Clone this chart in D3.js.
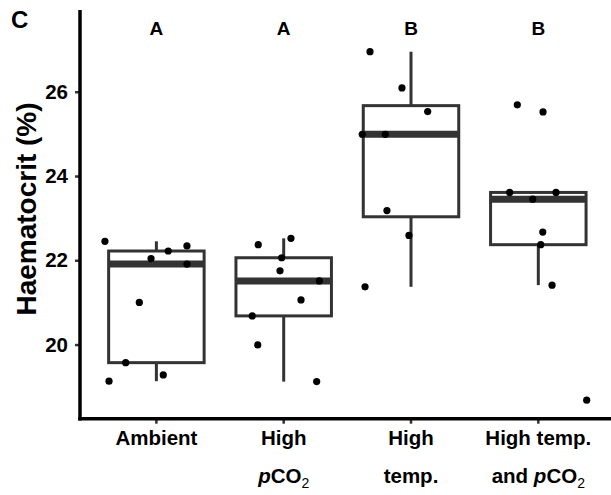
<!DOCTYPE html>
<html><head><meta charset="utf-8">
<script src="https://cdn.jsdelivr.net/npm/d3@7/dist/d3.min.js"></script>
<style>
body{margin:0;background:#fff;}
svg{display:block;font-family:"Liberation Sans",Arial,sans-serif;}
</style></head>
<body>
<svg id="chart" width="611" height="495"></svg>
<script>
// ---- data ----
const categories = ["Ambient", "High pCO2", "High temp.", "High temp. and pCO2"];
const categoryLines = [["Ambient"], ["High", "pCO2"], ["High", "temp."], ["High temp.", "and pCO2"]];
const letters = ["A", "A", "B", "B"];
const letterLevel = 27.5;
const ambient = [22.45, 22.22, 22.34, 22.04, 21.91, 21.0, 19.57, 19.28, 19.13];
const ambientJitter = [-0.404, 0.093, 0.24, -0.042, 0.24, -0.134, -0.241, 0.054, -0.372];
const highCO2 = [22.37, 22.52, 22.06, 21.75, 21.51, 21.06, 20.68, 19.99, 19.12];
const highCO2Jitter = [-0.20, 0.057, -0.016, -0.029, 0.28, 0.136, -0.247, -0.204, 0.259];
const highTemp = [26.95, 26.09, 25.53, 24.99, 24.99, 23.18, 22.59, 21.37];
const highTempJitter = [-0.322, -0.071, 0.131, -0.383, -0.202, -0.189, -0.016, -0.361];
const highBoth = [25.69, 25.52, 23.61, 23.61, 23.45, 22.67, 22.37, 21.41, 18.68];
const highBothJitter = [-0.165, 0.037, -0.225, 0.139, -0.044, 0.035, 0.019, 0.108, 0.38];
const yTicks = [20, 22, 24, 26];
const yTitle = "Haematocrit (%)";
const panelLabel = "C";

const groups = [ambient, highCO2, highTemp, highBoth];
const jitters = [ambientJitter, highCO2Jitter, highTempJitter, highBothJitter];

// ---- layout ----
const svg = d3.select("#chart");
const pLeft = 80, pRight = 614.7, pTop = 10, pBottom = 418.7;
const boxColor = "#333333";

const x = d3.scaleBand().domain(categories).range([pLeft, pRight]).paddingInner(0).paddingOuter(0.1);
const y = d3.scaleLinear().domain([18.24, 27.94]).range([pBottom, pTop]);
const step = x.step();
const cx = c => x(c) + x.bandwidth() / 2;

function stats(vals) {
  const s = vals.slice().sort(d3.ascending);
  const q1 = d3.quantile(s, 0.25), med = d3.quantile(s, 0.5), q3 = d3.quantile(s, 0.75);
  const iqr = q3 - q1;
  const lo = d3.min(s.filter(v => v >= q1 - 1.5 * iqr));
  const hi = d3.max(s.filter(v => v <= q3 + 1.5 * iqr));
  return {q1, med, q3, lo, hi};
}

// boxes
const bw = x.bandwidth() * 0.75;
categories.forEach((c, i) => {
  const st = stats(groups[i]);
  const g = svg.append("g");
  g.append("line").attr("x1", cx(c)).attr("x2", cx(c)).attr("y1", y(st.q3)).attr("y2", y(st.hi))
    .attr("stroke", boxColor).attr("stroke-width", 3);
  g.append("line").attr("x1", cx(c)).attr("x2", cx(c)).attr("y1", y(st.q1)).attr("y2", y(st.lo))
    .attr("stroke", boxColor).attr("stroke-width", 3);
  g.append("rect").attr("x", cx(c) - bw / 2).attr("y", y(st.q3)).attr("width", bw).attr("height", y(st.q1) - y(st.q3))
    .attr("fill", "#fff").attr("stroke", boxColor).attr("stroke-width", 3);
  g.append("line").attr("x1", cx(c) - bw / 2).attr("x2", cx(c) + bw / 2).attr("y1", y(st.med)).attr("y2", y(st.med))
    .attr("stroke", boxColor).attr("stroke-width", 7);
});

// points
categories.forEach((c, i) => {
  svg.append("g").selectAll("circle").data(groups[i]).join("circle")
    .attr("cx", (d, j) => cx(c) + jitters[i][j] * step)
    .attr("cy", d => y(d)).attr("r", 3.6).attr("fill", "#000");
});

// letters
svg.append("g").selectAll("text").data(categories).join("text")
  .attr("x", c => cx(c)).attr("y", y(letterLevel) + 6.5)
  .attr("text-anchor", "middle").attr("font-size", 19).attr("font-weight", "bold")
  .text((c, i) => letters[i]);

// y axis
const ya = svg.append("g").attr("transform", `translate(${pLeft},0)`)
  .call(d3.axisLeft(y).tickValues(yTicks).tickSize(5).tickPadding(7).tickFormat(d3.format("d")));
ya.select(".domain").remove();
ya.selectAll(".tick line").attr("stroke", boxColor).attr("stroke-width", 2.5);
ya.selectAll(".tick text").attr("font-size", 20.5).attr("font-weight", "bold").attr("fill", "#000")
  .attr("font-family", "Liberation Sans, Arial, sans-serif");

// x axis ticks
const xa = svg.append("g").attr("transform", `translate(0,${pBottom})`)
  .call(d3.axisBottom(x).tickSize(5).tickFormat(""));
xa.select(".domain").remove();
xa.selectAll(".tick line").attr("stroke", boxColor).attr("stroke-width", 2.5);

// axis lines
svg.append("line").attr("x1", pLeft).attr("x2", pLeft).attr("y1", pTop).attr("y2", pBottom + 1.75)
  .attr("stroke", "#000").attr("stroke-width", 3.5);
svg.append("line").attr("x1", pLeft - 1.75).attr("x2", 611).attr("y1", pBottom).attr("y2", pBottom)
  .attr("stroke", "#000").attr("stroke-width", 3.5);

// x labels
function addLine(textSel, str) {
  const parts = str.split("pCO2");
  parts.forEach((p, k) => {
    if (p) textSel.append("tspan").text(p);
    if (k < parts.length - 1) {
      textSel.append("tspan").attr("font-style", "italic").text("p");
      textSel.append("tspan").text("CO");
      textSel.append("tspan").attr("font-size", 14).attr("font-weight", "normal").attr("dy", 5).text("2");
    }
  });
}
categories.forEach((c, i) => {
  categoryLines[i].forEach((ln, k) => {
    const t = svg.append("text").attr("x", cx(c)).attr("y", 445 + k * 38)
      .attr("text-anchor", "middle").attr("font-size", 20.5).attr("font-weight", "bold").attr("fill", "#000");
    addLine(t, ln);
  });
});

// y title
svg.append("text").attr("transform", "translate(36,209) rotate(-90)")
  .attr("text-anchor", "middle").attr("font-size", 28).attr("font-weight", "bold").text(yTitle);

// panel label
svg.append("text").attr("x", 11).attr("y", 28).attr("font-size", 24).attr("font-weight", "bold").text(panelLabel);
</script>
</body></html>
